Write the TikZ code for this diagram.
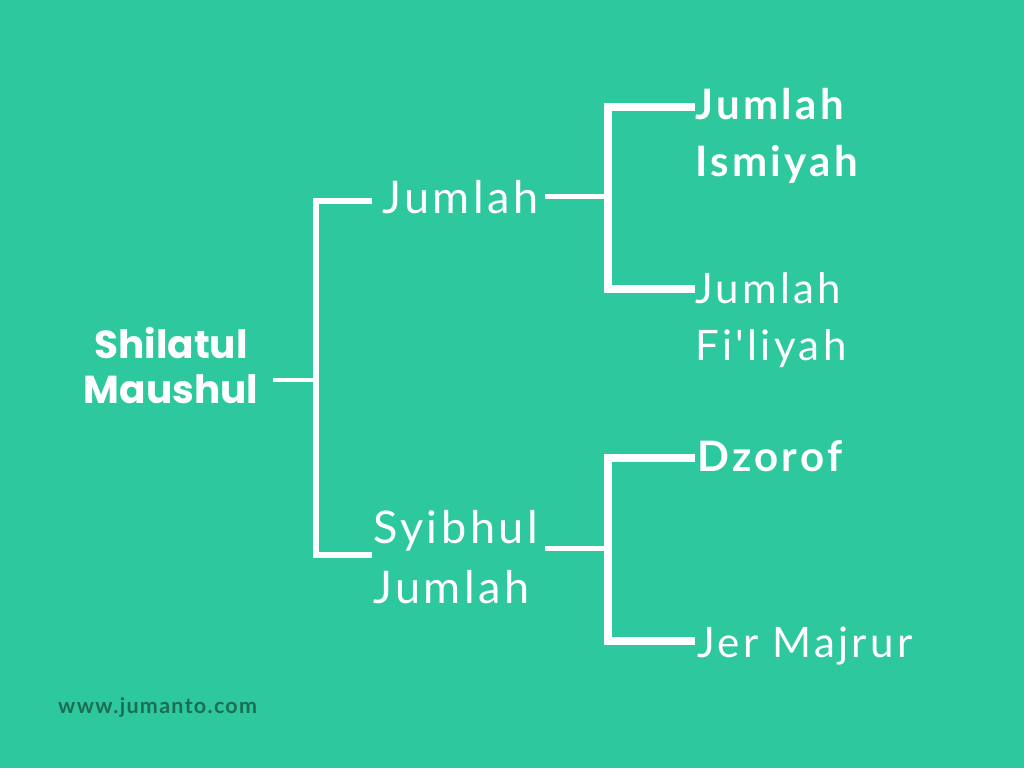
\documentclass[tikz,border=0pt]{standalone}
\usepackage{fontspec}
\newfontfamily\lato{Lato}[LetterSpace=8]
\newfontfamily\latow{Lato}[LetterSpace=6]
\newfontfamily\pop{Poppins}
\definecolor{bg}{RGB}{45,200,158}
\definecolor{webc}{RGB}{27,110,84}
\begin{document}
\begin{tikzpicture}[x=1pt,y=-1pt,
  lbl/.style={inner sep=0pt, text=white, anchor=base west, align=left},
  midtxt/.style={lbl, font={\lato\fontsize{45}{60}\selectfont}},
  righttxt/.style={lbl, font={\lato\fontsize{42}{57}\selectfont}},
  rightbold/.style={lbl, font={\lato\bfseries\fontsize{42}{57}\selectfont}},
  br/.style={draw=white, line join=miter},
]
\fill[bg] (0,0) rectangle (1024,768);
\useasboundingbox (0,0) rectangle (1024,768);

\node[inner sep=0pt, text=white, anchor=base, align=center,
  font={\pop\bfseries\fontsize{39}{45}\selectfont}] (root) at (171,403) {Shilatul\\Maushul};
\node[midtxt] (jum) at (382,213) {Jumlah};
\node[midtxt] (syi) at (373,603) {Syibhul\\Jumlah};
\node[rightbold] (ism) at (695,176) {Jumlah\\Ismiyah};
\node[righttxt] (fil) at (695,360) {Jumlah\\Fi'liyah};
\node[rightbold] (dzo) at (697,471) {Dzorof};
\node[righttxt] (jer) at (697,657) {Jer Majrur};
\node[inner sep=0pt, anchor=base west, text=webc,
  font={\latow\bfseries\fontsize{21.5}{24}\selectfont}] (web) at (58,713) {www.jumanto.com};

\coordinate (r0) at (273,380);
\coordinate (r1) at (316,380);
\coordinate (a1) at (372,201);
\coordinate (a2) at (372,555);
\coordinate (m1s) at (545,196);
\coordinate (m1e) at (608,196);
\coordinate (m2s) at (545,548);
\coordinate (m2e) at (608,548);
\coordinate (t1) at (695,107);
\coordinate (t2) at (695,289);
\coordinate (u1) at (695,458);
\coordinate (u2) at (695,641);

\draw[br, line width=4pt] (r0) -- (r1);
\draw[br, line width=6pt] (a1) -- (r1 |- a1) -- (r1 |- a2) -- (a2);
\draw[br, line width=5pt] (m1s) -- (m1e);
\draw[br, line width=5pt] (m2s) -- (m2e);
\draw[br, line width=8pt] (t1) -- (m1e |- t1) -- (m1e |- t2) -- (t2);
\draw[br, line width=8pt] (u1) -- (m2e |- u1) -- (m2e |- u2) -- (u2);
\end{tikzpicture}
\end{document}
